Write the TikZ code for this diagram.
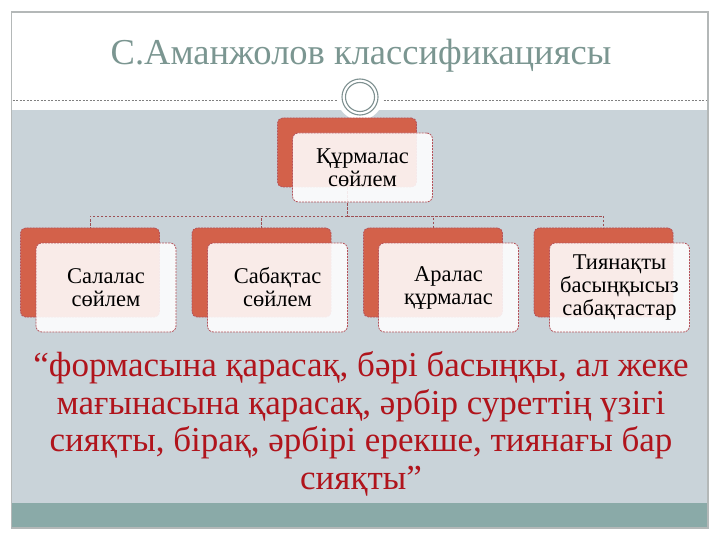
\documentclass[tikz,border=0pt]{standalone}
\usepackage{fontspec}
\setmainfont{Liberation Serif}
\definecolor{bggrey}{HTML}{C9D3D9}
\definecolor{band}{HTML}{8AAAA8}
\definecolor{orng}{HTML}{D3614A}
\definecolor{edge}{HTML}{B5525A}
\definecolor{titlec}{HTML}{7B9691}
\definecolor{quotec}{HTML}{B0141C}
\definecolor{framec}{HTML}{B4B8B8}
\definecolor{ringc}{HTML}{7F9191}
\definecolor{conn}{HTML}{9E5055}
\tikzset{
  backbox/.style={draw=edge, dash pattern=on 2pt off 1pt, line width=0.8pt, fill=orng,
    rounded corners=5pt, minimum width=139pt, minimum height=#1, inner sep=0pt},
  frontbox/.style={draw=edge, dash pattern=on 2pt off 1pt, line width=0.8pt, fill=white, fill opacity=0.88,
    text opacity=1, rounded corners=6pt, minimum width=140pt, minimum height=#1, inner sep=0pt,
    align=center, font=\fontsize{22.5}{23}\selectfont},
  link/.style={draw=conn, dash pattern=on 2.5pt off 1.5pt, line width=0.8pt}
}
\begin{document}
\begin{tikzpicture}[x=1pt,y=-1pt]
\useasboundingbox (0,0) rectangle (720,540);
\fill[white] (0,0) rectangle (720,540);
% background areas
\fill[bggrey] (12,110) rectangle (708,503);
\fill[band] (12,503) rectangle (708,528);
\draw[framec, line width=1.5pt] (11.5,12) rectangle (708,528);
% dashed separator
\draw[gray, dash pattern=on 2pt off 1.5pt, line width=0.6pt] (12.5,100.7) -- (707,100.7);
% title
\node[text=titlec, font=\fontsize{36.5}{38}\selectfont] (title) at (361,56) {С.Аманжолов классификациясы};
% circle ornament
\fill[white] (360,97) circle (23);
\draw[ringc, line width=1.1pt] (360,97) circle (18);
\draw[ringc, line width=1.1pt] (360,97) circle (14.5);
% top box
\node[backbox=69pt] (topback) at (347,152.5) {};
% bottom back boxes
\node[backbox=89pt] (b1) at (90,272.5) {};
\node[backbox=89pt] (b2) at (261.5,272.5) {};
\node[backbox=89pt] (b3) at (433,272.5) {};
\node[backbox=89pt] (b4) at (603.5,272.5) {};
% connectors
\coordinate (hub) at (347,216);
\draw[link] (topback.south) -- (hub);
\draw[link] (hub) -| (b1.north);
\draw[link] (hub) -| (b2.north);
\draw[link] (hub) -| (b3.north);
\draw[link] (hub) -| (b4.north);
% front boxes
\node[frontbox=69pt] (topfront) at (362.5,167.5) {Құрмалас\\сөйлем};
\node[frontbox=89pt] (f1) at (106,287.5) {Салалас\\сөйлем};
\node[frontbox=89pt] (f2) at (277.5,287.5) {Сабақтас\\сөйлем};
\node[frontbox=89pt] (f3) at (448.5,287.5) {Аралас\\құрмалас};
\node[frontbox=89pt] (f4) at (619.5,287.5) {Тиянақты\\басыңқысыз\\сабақтастар};
% quote
\node[text=quotec, align=center, font=\fontsize{35}{37.5}\selectfont] (quote) at (361,424)
 {“формасына қарасақ, бәрі басыңқы, ал жеке\\мағынасына қарасақ, әрбір суреттің үзігі\\сияқты, бірақ, әрбірі ерекше, тиянағы бар\\сияқты”};
\end{tikzpicture}
\end{document}
